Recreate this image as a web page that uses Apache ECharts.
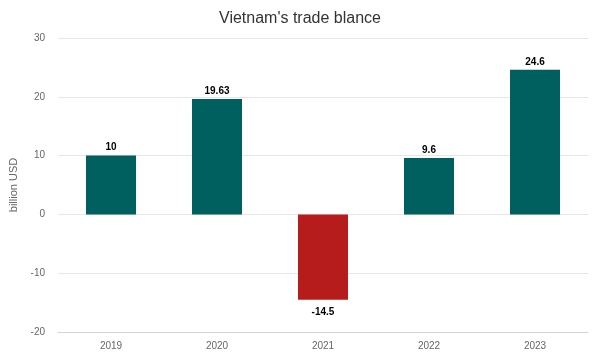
<!DOCTYPE html>
<html>
<head>
<meta charset="utf-8">
<script src="https://cdn.jsdelivr.net/npm/echarts@6/dist/echarts.min.js"></script>
<style>html,body{margin:0;padding:0;background:#fff;}#c{width:600px;height:356px;}</style>
</head>
<body>
<div id="c"></div>
<script>
var categories = ['2019', '2020', '2021', '2022', '2023'];
var values = [10, 19.63, -14.5, 9.6, 24.6];
var yTicks = { min: -20, max: 30, interval: 10 };
var titleText = "Vietnam's trade blance";
var yName = 'billion USD';

var chart = echarts.init(document.getElementById('c'), null, { renderer: 'canvas' });
chart.setOption({
  animation: false,
  title: {
    text: titleText, left: 'center', top: 6,
    textStyle: { fontFamily: 'Arial, Liberation Sans, sans-serif', fontSize: 16, fontWeight: 'normal', color: '#333' }
  },
  grid: { left: 58, right: 12, top: 38, bottom: 24, containLabel: false, outerBoundsMode: 'none' },
  xAxis: {
    type: 'category', data: categories,
    axisLine: { onZero: false, lineStyle: { color: '#ccd6eb' } },
    axisTick: { alignWithLabel: true, length: 9, lineStyle: { color: '#ccd6eb' } },
    axisLabel: { color: '#666', fontSize: 10, fontFamily: 'Arial, Liberation Sans, sans-serif', margin: 9 }
  },
  yAxis: {
    type: 'value', min: yTicks.min, max: yTicks.max, interval: yTicks.interval,
    name: yName, nameLocation: 'middle', nameGap: 39,
    nameTextStyle: { color: '#666', fontSize: 11, fontFamily: 'Arial, Liberation Sans, sans-serif' },
    axisLine: { show: false }, axisTick: { show: false },
    splitLine: { lineStyle: { color: '#e6e6e6' } },
    axisLabel: { color: '#666', fontSize: 10, fontFamily: 'Arial, Liberation Sans, sans-serif', margin: 13 }
  },
  series: [{
    type: 'bar', barWidth: 50,
    data: values.map(function (v) {
      return {
        value: v,
        itemStyle: { color: v < 0 ? '#b71c1c' : '#005f5f' },
        label: { position: v < 0 ? 'bottom' : 'top', distance: v < 0 ? 8 : 3 }
      };
    }),
    label: {
      show: true, color: '#000', fontWeight: 'bold', fontSize: 10,
      fontFamily: 'Arial, Liberation Sans, sans-serif'
    }
  }]
});
</script>
</body>
</html>
